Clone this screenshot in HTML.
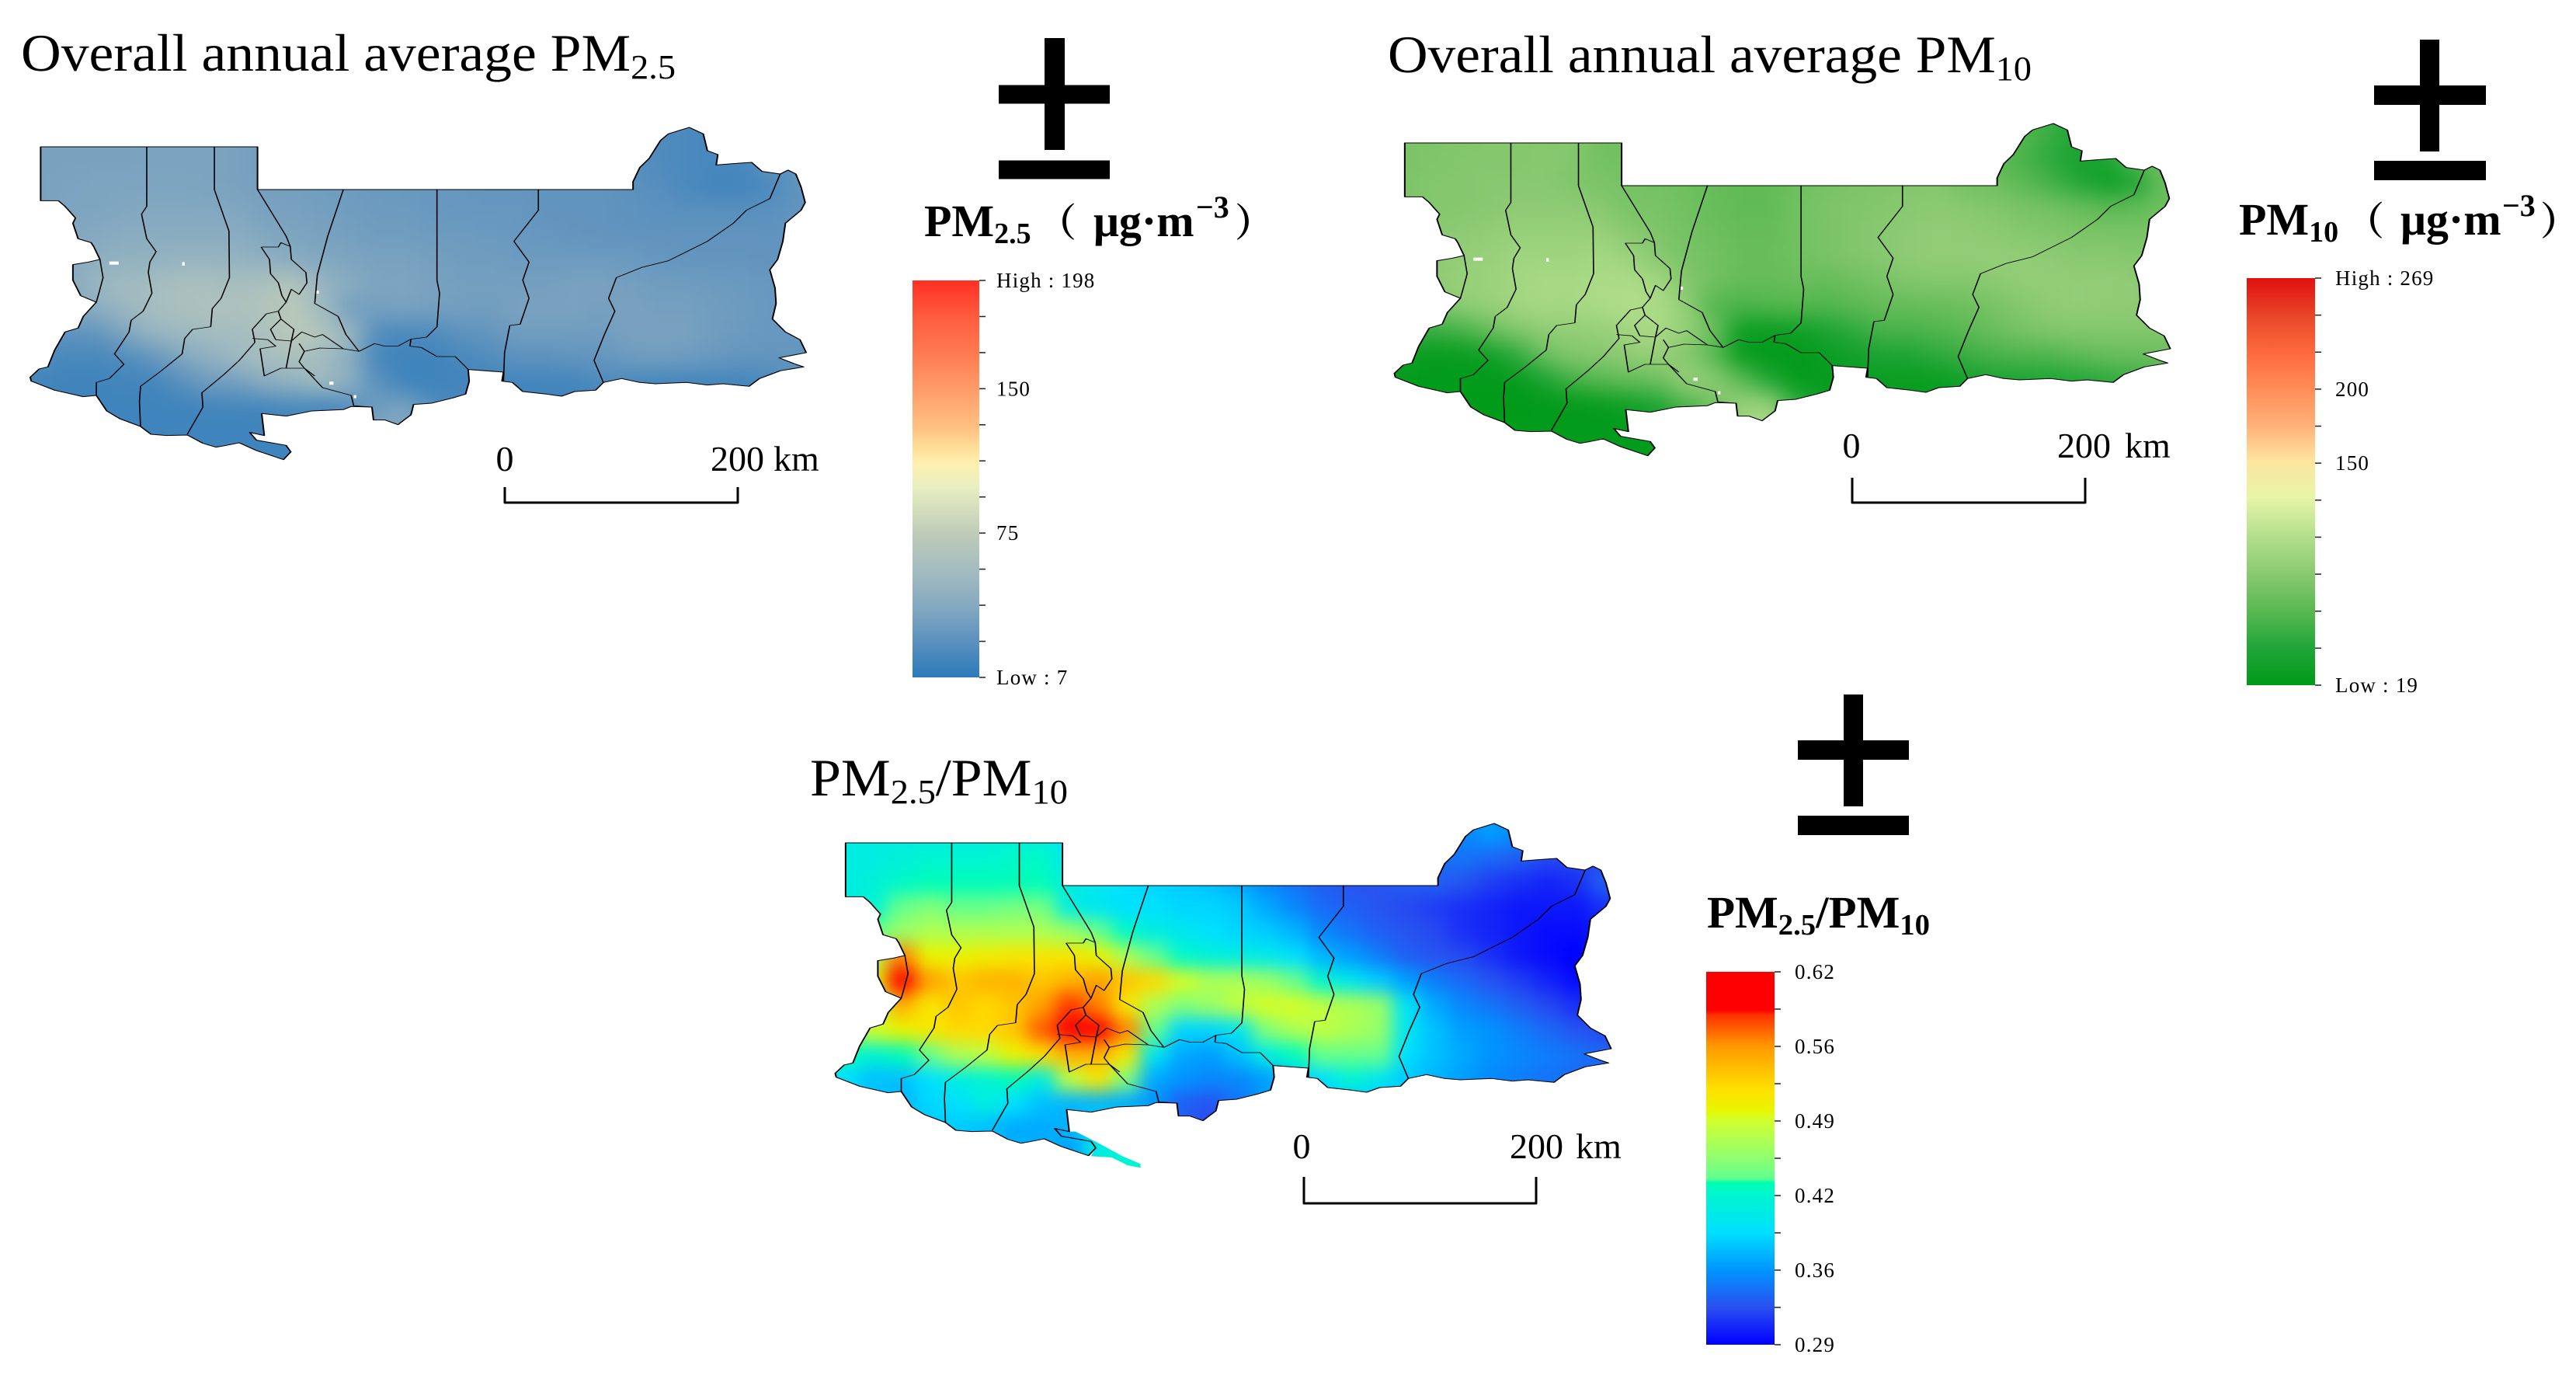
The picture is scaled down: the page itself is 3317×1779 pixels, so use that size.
<!DOCTYPE html>
<html>
<head>
<meta charset="utf-8">
<title>PM2.5 and PM10 annual average maps</title>
<style>
html,body{margin:0;padding:0;background:#fff;}
svg{display:block;}
text{font-family:"Liberation Serif","Noto Serif CJK SC",serif;fill:#000;}
.line{fill:none;stroke:#000;vector-effect:non-scaling-stroke;stroke-linejoin:round;}
.county{stroke-width:2.4;}
.edge{stroke-width:3;}
</style>
</head>
<body>
<svg id="figure" xmlns="http://www.w3.org/2000/svg" width="3317" height="1779" viewBox="0 0 3317 1779">
<defs>
<path id="boundary" d="M58,135 L475,135 L475,300 L1197,300 L1197,270 L1210,215 L1228,180 L1250,110 L1265,85 L1305,60 L1332,85 L1340,150 L1360,165 L1357,205 L1390,200 L1425,195 L1445,230 L1480,240 L1495,225 L1510,240 L1520,290 L1528,350 L1520,380 L1490,430 L1485,500 L1475,570 L1460,610 L1470,680 L1472,740 L1465,800 L1490,850 L1518,880 L1530,930 L1478,950 L1510,975 L1525,985 L1480,1000 L1440,1030 L1420,1060 L1370,1050 L1340,1055 L1300,1045 L1240,1050 L1210,1045 L1175,1030 L1140,1045 L1125,1075 L1085,1080 L1060,1098 L1030,1090 L985,1080 L965,1045 L945,1040 L948,1005 L880,995 L882,1040 L875,1090 L850,1105 L810,1125 L775,1130 L770,1170 L745,1208 L720,1190 L698,1190 L695,1140 L655,1138 L640,1150 L580,1155 L530,1175 L483,1165 L488,1250 L460,1238 L473,1268 L530,1288 L539,1313 L525,1343 L473,1308 L440,1278 L410,1290 L395,1295 L370,1280 L340,1248 L300,1250 L270,1245 L250,1215 L210,1185 L185,1155 L165,1095 L140,1100 L85,1075 L40,1040 L38,1025 L55,993 L72,985 L85,920 L105,850 L130,835 L140,790 L165,735 L135,710 L120,650 L120,590 L150,580 L172,570 L160,520 L155,505 L130,490 L120,430 L125,410 L105,365 L92,343 L58,343 Z"/>
<path id="tail-strip" d="M488,1250 L500,1250 L540,1290 L590,1345 L625,1375 L625,1390 L600,1380 L570,1350 L530,1345 L539,1313 L530,1288 L473,1268 L460,1238 Z"/>
<path id="counties" d="M172,570 L178,640 L170,700 L165,735
M262,135 L262,365 L252,395 L262,490 L280,540 L268,580 L265,620 L272,700 L255,770 L232,805 L228,850 L200,935 L218,975 L190,1030 L165,1045 L165,1095
M392,135 L392,300 L420,460 L421,640 L405,720 L388,760 L385,830 L350,840 L335,875 L330,935 L290,1000 L250,1060 L248,1120 L250,1215 L270,1245
M475,300 L530,480 L538,520 L540,570 L568,620 L570,660 L555,705 L540,685 L530,735 L515,770 L492,780 L465,840 L470,890 L440,960 L410,1015 L368,1085 L370,1140 L340,1245
M482,522 L515,522 L520,505 L538,520 M482,522 L498,570 L500,625 L515,660 L522,710 L530,735
M640,300 L610,480 L590,630 L585,740 L630,790 L645,860 L670,925
M820,300 L820,650 L825,700 L820,830 L800,870 L770,878 L768,905
M1015,300 L1015,380 L968,500 L997,580 L985,650 L997,720 L980,820 L960,825 L950,930 L948,1040
M1480,240 L1460,335 L1415,380 L1390,430 L1340,500 L1265,575 L1215,600 L1165,640 L1150,720 L1162,770 L1142,860 L1122,960 L1140,1045
M670,925 L640,915 L595,912 L565,925 L555,965 L565,990 L600,1065 L655,1095 L660,1135 L695,1140
M670,925 L700,895 L720,905 L745,905 L770,878 M768,905 L790,910 L820,945 L855,945 L880,995
M465,875 L495,880 L510,905 L480,915 L488,1020 L520,990 L565,990
M540,885 L530,990 M510,880 L540,885 L560,850 L585,870 L600,860 L640,915
M515,770 L520,800 L500,840 L510,880 M520,800 L545,840 L540,885 M555,895 L565,925 M565,990 L585,1020"/>
<path id="specks" fill="#fff" d="M190,578 h18 v12 h-18 Z M330,580 h5 v14 h-5 Z M587,690 h6 v12 h-6 Z M613,1042 h8 v12 h-8 Z M660,1094 h5 v12 h-5 Z"/>
<clipPath id="clip-main"><use href="#boundary"/></clipPath>
<clipPath id="clip-ratio"><use href="#boundary"/><use href="#tail-strip"/></clipPath>
<filter id="smooth-a" filterUnits="userSpaceOnUse" x="-150" y="-150" width="1900" height="1800" color-interpolation-filters="sRGB"><feGaussianBlur stdDeviation="22 44"/></filter>
<filter id="smooth-b" filterUnits="userSpaceOnUse" x="-150" y="-150" width="1900" height="1800" color-interpolation-filters="sRGB"><feGaussianBlur stdDeviation="17 34"/></filter>
</defs>
<rect width="3317" height="1779" fill="#fff"/>

<!-- Map 1 -->
<text x="27" y="91" font-size="68" textLength="843" lengthAdjust="spacingAndGlyphs">Overall annual average PM<tspan font-size="44" dy="10">2.5</tspan></text>
<g transform="translate(13.5,144) scale(.6697,.3333)">
  <g clip-path="url(#clip-main)"><g id="pm25-cells" filter="url(#smooth-a)"></g></g>
  <use href="#specks"/>
  <use href="#counties" class="line county"/>
  <use href="#boundary" class="line edge"/>
</g>
<g>
  <path class="line" style="stroke-width:3" d="M650,627 V647 H950 V627"/>
  <text x="650" y="606" font-size="46" text-anchor="middle">0</text>
  <text x="915" y="606" font-size="46">200</text>
  <text x="996" y="606" font-size="46">km</text>
</g>
<g>
  <rect x="1345" y="49" width="26" height="144"/><rect x="1286" y="109.500" width="143" height="24"/><rect x="1286" y="206.500" width="143" height="24"/>
</g>
<text font-size="58" font-weight="bold" y="304"><tspan x="1190">PM</tspan><tspan font-size="38" dy="9">2.5</tspan><tspan x="1336" dy="-9" font-size="50">（</tspan><tspan x="1408" font-size="58">μg·m</tspan><tspan x="1540" font-size="40" dy="-24">−3</tspan><tspan x="1590" dy="24" font-size="50">）</tspan></text>
<g id="pm25-legend"></g>

<!-- Map 2 -->
<text x="1787" y="93" font-size="68" textLength="829" lengthAdjust="spacingAndGlyphs">Overall annual average PM<tspan font-size="44" dy="10">10</tspan></text>
<g transform="translate(1770,139) scale(.6697,.3333)">
  <g clip-path="url(#clip-main)"><g id="pm10-cells" filter="url(#smooth-a)"></g></g>
  <use href="#specks"/>
  <use href="#counties" class="line county"/>
  <use href="#boundary" class="line edge"/>
</g>
<g>
  <path class="line" style="stroke-width:3" d="M2385,615 V647 H2685 V615"/>
  <text x="2384" y="589" font-size="46" text-anchor="middle">0</text>
  <text x="2649" y="589" font-size="46">200</text>
  <text x="2736" y="589" font-size="46">km</text>
</g>
<g>
  <rect x="3116" y="51" width="25" height="144"/><rect x="3057" y="110" width="144" height="25"/><rect x="3057" y="207" width="144" height="25"/>
</g>
<text font-size="58" font-weight="bold" y="302"><tspan x="2883">PM</tspan><tspan font-size="38" dy="9">10</tspan><tspan x="3020" dy="-9" font-size="50">（</tspan><tspan x="3091" font-size="58">μg·m</tspan><tspan x="3222" font-size="40" dy="-24">−3</tspan><tspan x="3271" dy="24" font-size="50">）</tspan></text>
<g id="pm10-legend"></g>

<!-- Map 3 -->
<text x="1043" y="1024" font-size="68" textLength="332" lengthAdjust="spacingAndGlyphs">PM<tspan font-size="44" dy="10">2.5</tspan><tspan dy="-10">/PM</tspan><tspan font-size="44" dy="10">10</tspan></text>
<g transform="translate(1050,1040) scale(.6697,.3333)">
  <g clip-path="url(#clip-ratio)"><g id="ratio-cells" filter="url(#smooth-b)"></g></g>
  <use href="#counties" class="line county"/>
  <use href="#boundary" class="line edge"/>
</g>
<g>
  <path class="line" style="stroke-width:3" d="M1679,1515 V1549 H1978 V1515"/>
  <text x="1676" y="1491" font-size="46" text-anchor="middle">0</text>
  <text x="1944" y="1491" font-size="46">200</text>
  <text x="2029" y="1491" font-size="46">km</text>
</g>
<g>
  <rect x="2374" y="894" width="25" height="144"/><rect x="2315" y="953" width="143" height="25"/><rect x="2315" y="1050" width="143" height="25"/>
</g>
<text font-size="58" font-weight="bold" x="2198" y="1194" textLength="287" lengthAdjust="spacingAndGlyphs">PM<tspan font-size="38" dy="9">2.5</tspan><tspan dy="-9">/PM</tspan><tspan font-size="38" dy="9">10</tspan></text>
<g id="ratio-legend"></g>
</svg>

<script>
/* Heat-surface values: rows north to south, columns west to east */
const pm25Rows = [
[36,36,36,36,37,37,37,36,32,32,31,31,29,28,28,27,26,26,26,26,24,22,20,18,17,18,25,26],
[36,36,36,36,37,37,37,36,32,32,31,31,29,28,28,27,26,26,26,26,24,22,20,18,17,18,25,26],
[36,37,38,38,38,38,37,36,34,34,32,31,30,29,28,28,27,27,26,26,26,24,22,18,15,15,18,26],
[36,38,38,39,40,40,40,39,36,35,34,32,31,31,29,28,28,28,26,26,26,25,24,23,23,23,24,26],
[38,39,41,43,43,43,43,43,39,38,36,34,32,32,31,31,30,29,28,27,26,26,26,26,26,26,26,27],
[39,41,46,48,48,50,50,49,46,42,39,38,36,36,34,32,32,31,31,31,31,30,28,27,27,27,26,27],
[41,43,52,56,58,62,62,60,64,68,52,42,38,38,36,34,34,34,34,36,36,34,32,32,31,30,29,29],
[40,40,44,52,58,62,64,64,66,72,56,34,34,36,34,34,32,36,36,36,34,36,34,34,32,31,29,29],
[26,24,26,38,50,54,56,58,62,72,68,54,20,17,19,24,27,32,32,32,32,36,36,36,32,30,29,29],
[19,17,17,19,26,38,46,54,60,62,56,44,17,14,14,17,20,24,24,26,27,31,32,31,29,27,27,27],
[15,14,14,15,15,22,31,33,42,48,56,46,24,14,14,15,15,15,15,15,19,17,15,15,15,15,17,19],
[15,14,14,14,14,14,15,15,15,17,15,21,32,38,21,17,15,15,15,15,15,15,15,15,15,15,15,15],
[14,14,14,14,14,14,14,14,14,14,14,17,40,40,26,15,14,14,14,14,14,14,14,14,14,14,14,14],
[14,14,14,14,14,14,14,14,14,14,14,14,36,36,21,14,14,14,14,14,14,14,14,14,14,14,14,14]
];
const pm10Rows = [
[78,78,80,82,82,82,82,74,72,70,68,66,66,68,70,72,74,74,74,74,72,66,62,50,40,46,64,74],
[78,80,82,82,82,84,82,74,74,72,70,68,66,66,70,72,74,74,74,74,72,64,56,46,34,38,64,74],
[78,82,82,84,84,84,80,78,76,74,72,68,66,66,72,76,78,80,82,82,74,72,64,54,41,28,36,69],
[80,82,82,84,87,87,87,84,77,77,74,69,66,66,74,78,81,82,84,86,84,81,77,74,70,64,66,72],
[82,84,87,89,92,92,92,92,84,80,75,72,68,68,74,77,81,84,87,89,88,86,82,81,78,77,77,77],
[84,87,90,92,96,96,96,99,94,84,77,74,70,70,74,77,81,84,88,90,90,90,89,87,84,84,82,81],
[84,87,92,94,99,101,101,103,103,99,82,74,68,68,70,68,72,77,81,82,82,86,90,90,90,90,88,84],
[82,82,88,92,97,101,99,103,106,103,90,60,58,60,62,60,64,68,68,70,72,77,82,88,90,88,88,84],
[55,50,55,70,82,88,90,92,97,103,92,73,28,25,28,37,46,57,57,60,64,71,77,81,82,82,82,81],
[25,23,25,28,46,73,82,84,88,92,84,62,23,21,21,25,31,37,40,46,51,57,59,60,66,70,71,71],
[23,21,21,21,23,37,55,64,70,73,92,87,64,37,21,23,25,26,25,26,31,37,39,40,42,46,51,55],
[21,19,19,19,19,21,21,23,30,40,60,77,92,92,46,25,23,23,23,23,25,26,28,28,30,31,33,35],
[21,21,21,21,21,21,21,21,21,21,28,55,100,105,64,28,21,21,21,21,21,21,21,21,21,21,21,21],
[21,21,21,21,21,21,21,21,21,21,21,37,92,96,55,23,21,21,21,21,21,21,21,21,21,21,21,21]
];
const ratioRows = [
[.41,.41,.41,.41,.41,.41,.41,.41,.39,.38,.38,.38,.37,.36,.36,.35,.34,.33,.33,.33,.33,.34,.35,.36,.35,.34,.33,.33],
[.41,.41,.415,.42,.42,.42,.425,.425,.40,.39,.38,.38,.37,.37,.36,.35,.34,.33,.33,.33,.33,.34,.34,.335,.33,.32,.32,.32],
[.41,.415,.425,.43,.43,.43,.43,.43,.41,.40,.39,.385,.38,.375,.365,.35,.34,.33,.325,.325,.33,.33,.325,.315,.31,.305,.31,.33],
[.41,.42,.44,.45,.44,.44,.445,.445,.41,.40,.39,.39,.385,.385,.38,.365,.35,.335,.33,.325,.32,.315,.31,.305,.30,.30,.30,.31],
[.42,.44,.46,.47,.47,.47,.47,.47,.46,.44,.425,.41,.40,.39,.385,.38,.37,.35,.34,.33,.325,.32,.31,.305,.30,.295,.295,.30],
[.45,.47,.56,.50,.50,.505,.51,.51,.51,.50,.47,.44,.425,.415,.41,.405,.39,.37,.36,.345,.33,.325,.32,.31,.30,.295,.29,.30],
[.45,.50,.66,.55,.53,.54,.54,.53,.54,.55,.53,.52,.49,.47,.47,.46,.44,.42,.40,.38,.36,.345,.335,.325,.315,.305,.295,.30],
[.45,.47,.54,.51,.53,.52,.53,.55,.58,.56,.51,.47,.45,.46,.48,.49,.49,.48,.47,.46,.395,.365,.35,.34,.33,.32,.31,.31],
[.46,.49,.50,.51,.52,.52,.53,.57,.66,.66,.56,.44,.385,.385,.40,.45,.47,.48,.47,.46,.40,.375,.36,.355,.345,.335,.325,.32],
[.43,.42,.43,.44,.47,.48,.50,.515,.54,.54,.51,.40,.365,.36,.375,.41,.43,.44,.44,.44,.39,.375,.365,.355,.35,.345,.34,.335],
[.39,.375,.375,.39,.41,.42,.43,.41,.48,.51,.45,.365,.355,.35,.35,.36,.38,.39,.42,.40,.38,.37,.36,.35,.345,.34,.335,.33],
[.38,.38,.37,.385,.39,.41,.39,.375,.37,.37,.365,.355,.33,.325,.34,.36,.37,.38,.38,.38,.38,.37,.36,.36,.35,.35,.34,.34],
[.38,.38,.38,.38,.38,.375,.365,.365,.37,.40,.42,.40,.33,.32,.33,.36,.37,.37,.37,.37,.37,.36,.36,.36,.35,.35,.34,.34],
[.38,.38,.38,.38,.38,.375,.37,.37,.36,.41,.42,.42,.33,.32,.33,.36,.37,.37,.37,.37,.37,.36,.36,.36,.35,.35,.34,.34]
];

/* Legend tick labels, top to bottom */
const pm25TickLabels = ['High : 198','','','150','','','','75','','','','Low : 7'];
const pm10TickLabels = ['High : 269','','','200','','150','','','','','','Low : 19'];
const ratioTickLabels = ['0.62','','0.56','','0.49','','0.42','','0.36','','0.29'];

/* Value to legend-fraction anchors */
const pm25AnchorValues = [7,75,150,198];
const pm25AnchorFractions = [0,.364,.727,1];
const pm10AnchorValues = [19,150,200,269];
const pm10AnchorFractions = [0,.545,.727,1];
const ratioAnchorValues = [.29,.62];
const ratioAnchorFractions = [0,1];

/* Colour ramps, bottom to top */
const pm25RampFractions = [0,.087,.18,.268,.356,.48,.54,.574,.63,.72,.81,.9,1];
const pm25RampColors = ['#2b7bba','#5a90be','#85a9c0','#a3bcc0','#bccab8','#e8eec0','#fff0b0','#fee09a','#ffc080','#ff9e6a','#ff7c52','#ff5f40','#ff3025'];
const pm10RampFractions = [0,.09,.18,.27,.37,.46,.55,.64,.73,.81,.9,1];
const pm10RampColors = ['#009a18','#20a538','#58b850','#88c870','#b5e08c','#e6f5a8','#fde5a0','#ffb078','#ff8c58','#ff6c40','#ea4a2a','#e01010'];
const ratioRampFractions = [0,.1,.2,.3,.4,.435,.445,.5,.6,.63,.685,.8,.885,.896,1];
const ratioRampColors = ['#0000ff','#2a50f0','#0095ff','#00dfff','#00f5d0','#00ffb0','#60ff90','#8fff70','#d0ff30','#e8f500','#ffe000','#ff9900','#ff3000','#ff0000','#ff0000'];

const SVG_NS = 'http://www.w3.org/2000/svg';

/* Grid axes in map-template units */
function xScale(col){ return 30 + 54 * col; }
function yScale(row){ return 50 + 95 * row; }

function interp(v, xs, ys){
  if (v <= xs[0]) return ys[0];
  for (let i = 1; i < xs.length; i++) {
    if (v <= xs[i]) return ys[i-1] + (ys[i]-ys[i-1]) * (v-xs[i-1]) / (xs[i]-xs[i-1]);
  }
  return ys[ys.length-1];
}
function hexRgb(h){ return [parseInt(h.substr(1,2),16),parseInt(h.substr(3,2),16),parseInt(h.substr(5,2),16)]; }
function rampColor(frac, fracs, cols){
  let i = 1;
  while (i < fracs.length-1 && frac > fracs[i]) i++;
  const t = Math.max(0, Math.min(1, (frac-fracs[i-1]) / (fracs[i]-fracs[i-1])));
  const a = hexRgb(cols[i-1]);
  const b = hexRgb(cols[i]);
  return 'rgb(' + Math.round(a[0]+(b[0]-a[0])*t) + ',' + Math.round(a[1]+(b[1]-a[1])*t) + ',' + Math.round(a[2]+(b[2]-a[2])*t) + ')';
}

function drawCells(groupId, rows, anchorV, anchorF, fracs, cols){
  const g = document.getElementById(groupId);
  rows.forEach(function(vals, r){
    vals.forEach(function(v, c){
      const cell = document.createElementNS(SVG_NS, 'rect');
      
      
      const left = c === 0 ? -150 : xScale(c);
      const right = c === vals.length-1 ? 1750 : xScale(c+1)+1;
      const top = r === 0 ? -150 : yScale(r);
      const bottom = r === rows.length-1 ? 1650 : yScale(r+1)+1;
      cell.setAttribute('x', left);
      cell.setAttribute('y', top);
      cell.setAttribute('width', right-left);
      cell.setAttribute('height', bottom-top);
      cell.setAttribute('fill', rampColor(interp(v, anchorV, anchorF), fracs, cols));
      g.appendChild(cell);
    });
  });
}

function drawLegend(groupId, gradId, labels, fracs, cols, barLeft, barRight, barTop, barBottom, tickLen, labelX, fontSize){
  const g = document.getElementById(groupId);
  const defs = document.querySelector('defs');
  const grad = document.createElementNS(SVG_NS, 'linearGradient');
  grad.setAttribute('id', gradId);
  grad.setAttribute('x1', '0'); grad.setAttribute('y1', '1'); grad.setAttribute('x2', '0'); grad.setAttribute('y2', '0');
  fracs.forEach(function(f, i){
    const stop = document.createElementNS(SVG_NS, 'stop');
    stop.setAttribute('offset', f);
    stop.setAttribute('stop-color', cols[i]);
    grad.appendChild(stop);
  });
  defs.appendChild(grad);
  const bar = document.createElementNS(SVG_NS, 'rect');
  
  
  bar.setAttribute('x', barLeft);
  bar.setAttribute('y', barTop);
  bar.setAttribute('width', barRight-barLeft);
  bar.setAttribute('height', barBottom-barTop);
  bar.setAttribute('fill', 'url(#' + gradId + ')');
  g.appendChild(bar);
  labels.forEach(function(label, i){
    const y = barTop + (barBottom-barTop) * i / (labels.length-1);
    const tick = document.createElementNS(SVG_NS, 'line');
    
    
    tick.setAttribute('x1', barRight);
    tick.setAttribute('x2', barRight+tickLen);
    tick.setAttribute('y1', y);
    tick.setAttribute('y2', y);
    tick.setAttribute('stroke', '#222');
    tick.setAttribute('stroke-width', '1.5');
    g.appendChild(tick);
    if (label) {
      const t = document.createElementNS(SVG_NS, 'text');
      
      
      t.setAttribute('x', labelX);
      t.setAttribute('y', y+9);
      t.setAttribute('font-size', fontSize);
      t.setAttribute('letter-spacing', '1.2');
      t.setAttribute('fill', '#222');
      t.textContent = label;
      g.appendChild(t);
    }
  });
}

drawCells('pm25-cells', pm25Rows, pm25AnchorValues, pm25AnchorFractions, pm25RampFractions, pm25RampColors);
drawCells('pm10-cells', pm10Rows, pm10AnchorValues, pm10AnchorFractions, pm10RampFractions, pm10RampColors);
drawCells('ratio-cells', ratioRows, ratioAnchorValues, ratioAnchorFractions, ratioRampFractions, ratioRampColors);

drawLegend('pm25-legend', 'pm25-ramp', pm25TickLabels, pm25RampFractions, pm25RampColors, 1175, 1261, 361, 872, 8, 1283, 27);
drawLegend('pm10-legend', 'pm10-ramp', pm10TickLabels, pm10RampFractions, pm10RampColors, 2893, 2981, 358, 882, 8, 3007, 27);
drawLegend('ratio-legend', 'ratio-ramp', ratioTickLabels, ratioRampFractions, ratioRampColors, 2197, 2285, 1251, 1731, 8, 2311, 27);
</script>
</body>
</html>
